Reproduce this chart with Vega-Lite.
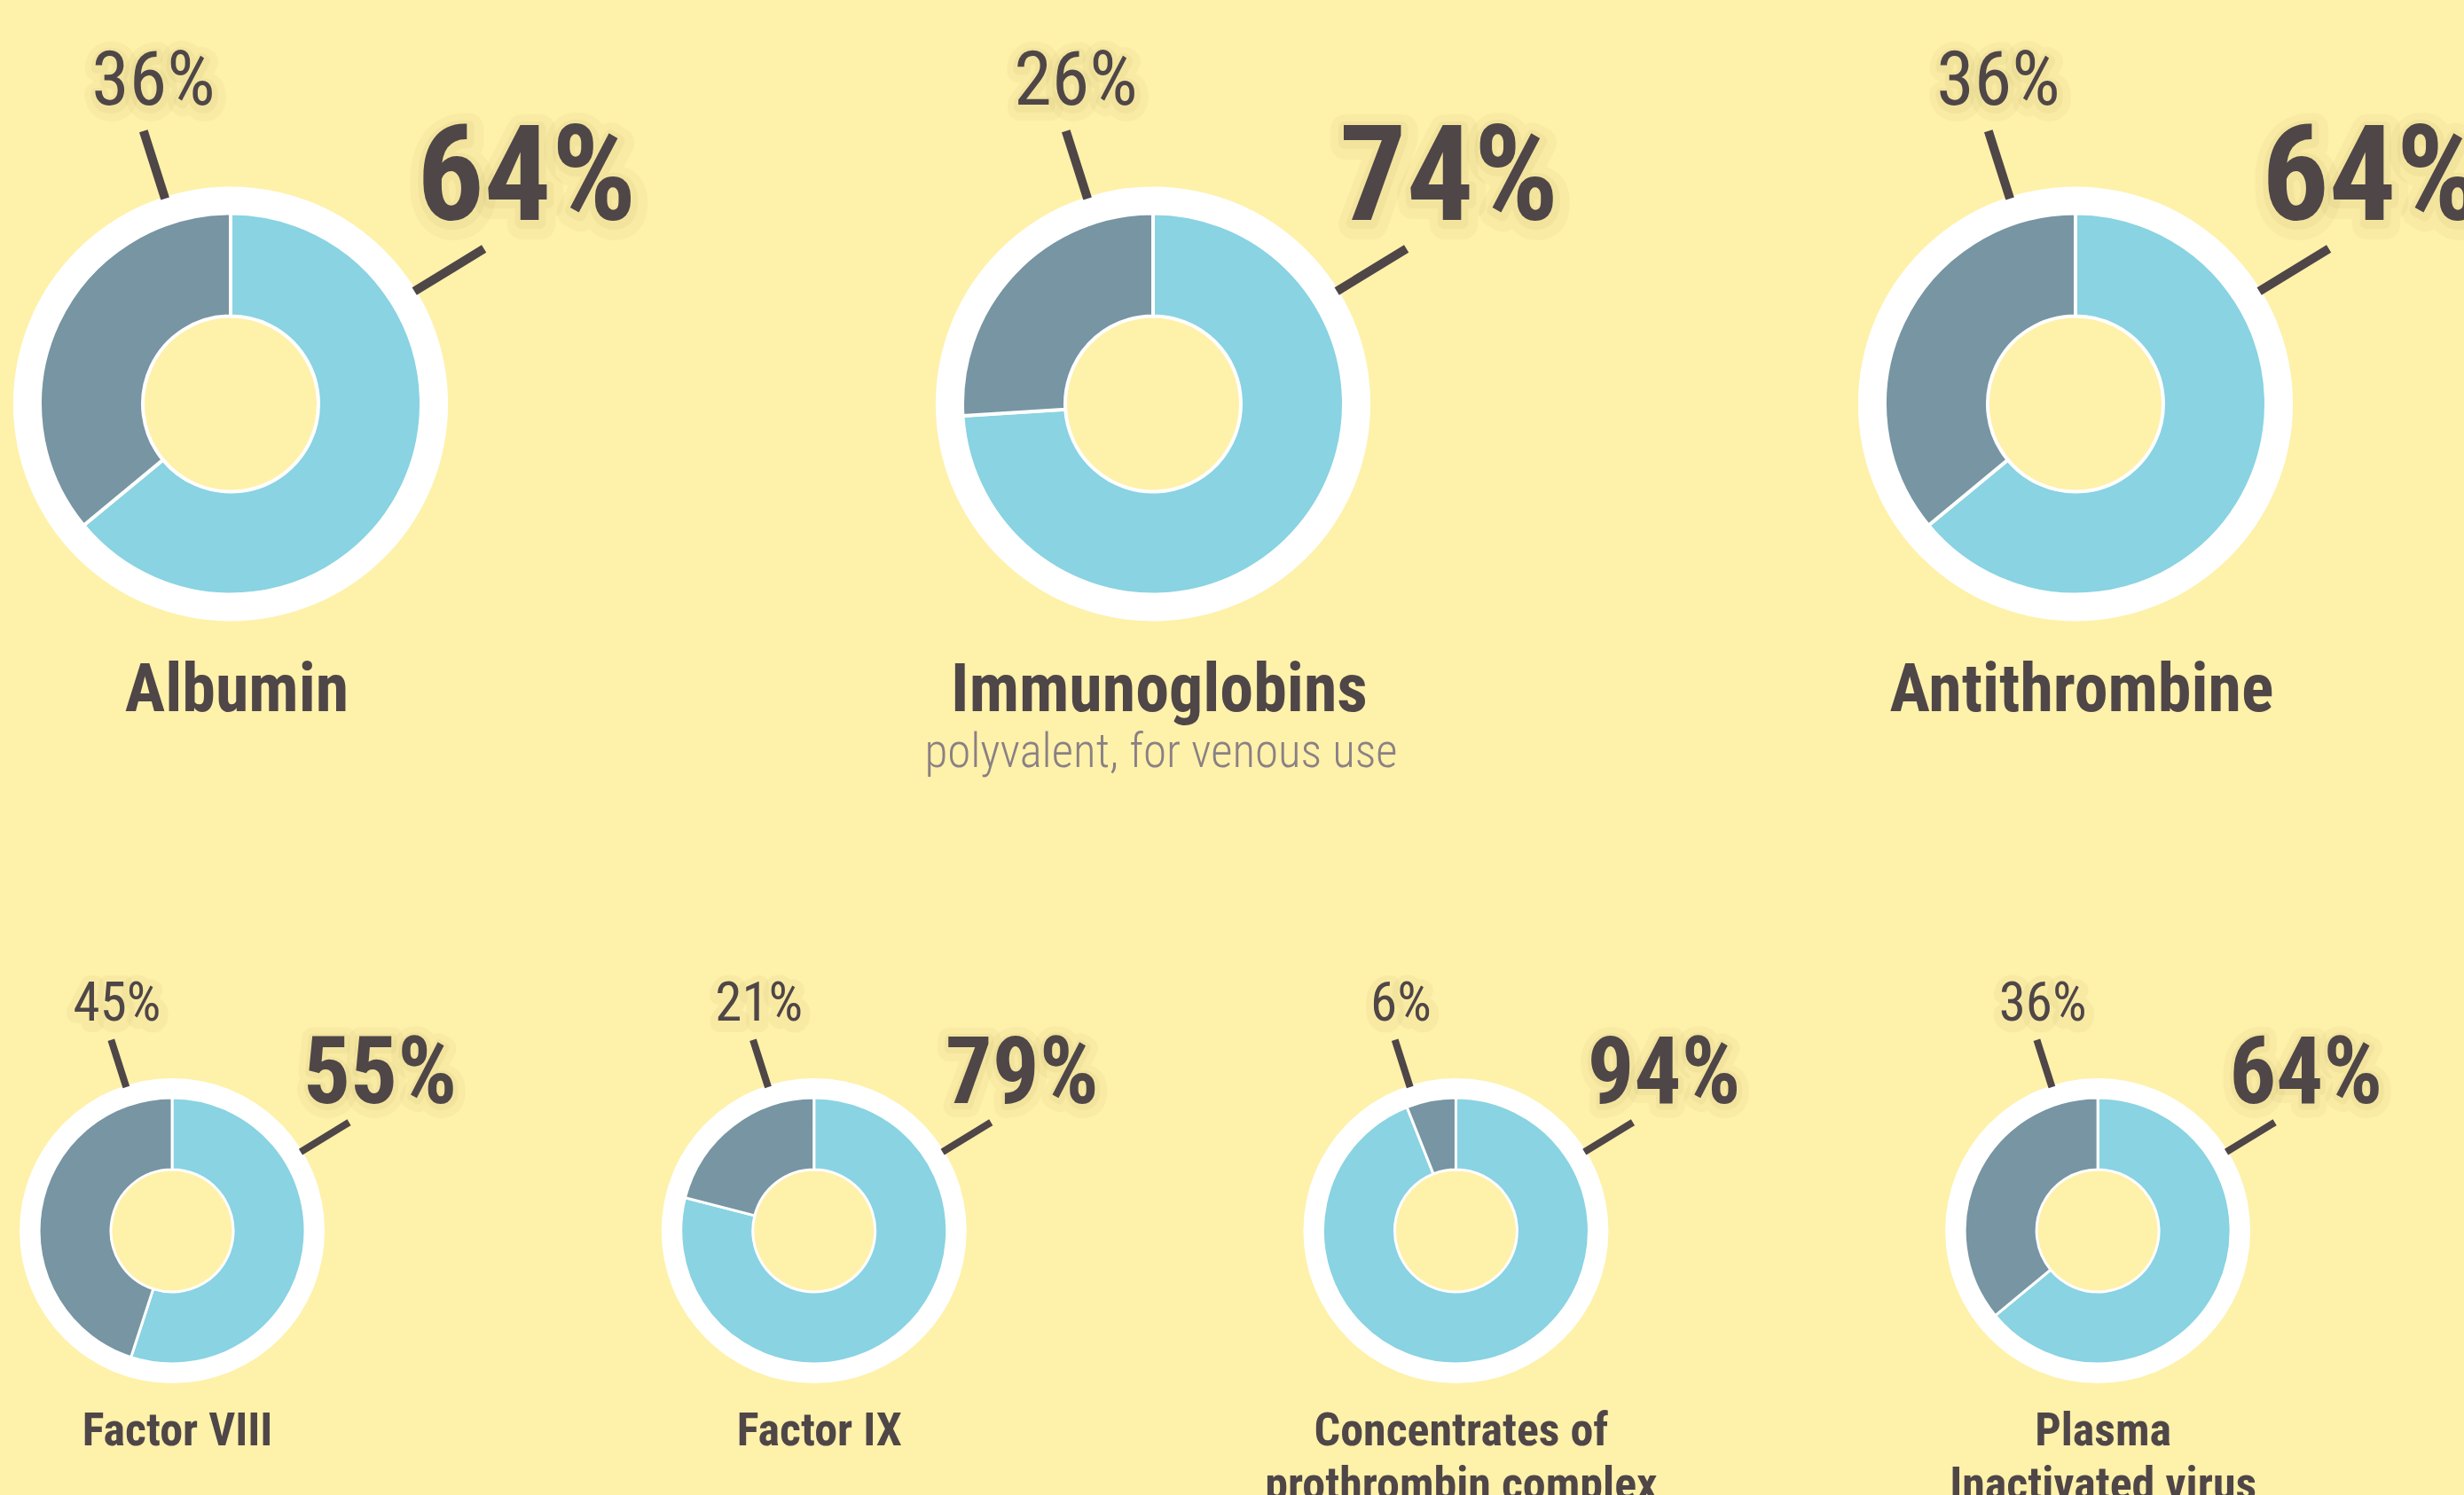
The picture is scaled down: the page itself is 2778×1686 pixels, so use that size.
{
  "$schema": "https://vega.github.io/schema/vega-lite/v6.json",
  "width": 2778,
  "height": 1686,
  "autosize": "none",
  "padding": 0,
  "background": "#FEF1AA",
  "config": {
    "view": {"stroke": null},
    "text": {"font": "Roboto Condensed", "color": "#4F4648"}
  },
  "datasets": {
    "slices": [
      {"row": "top", "name": "Albumin", "kind": "major", "share": 0.64},
      {"row": "top", "name": "Albumin", "kind": "minor", "share": 0.36},
      {"row": "top", "name": "Immunoglobins", "kind": "major", "share": 0.74},
      {"row": "top", "name": "Immunoglobins", "kind": "minor", "share": 0.26},
      {"row": "top", "name": "Antithrombine", "kind": "major", "share": 0.64},
      {"row": "top", "name": "Antithrombine", "kind": "minor", "share": 0.36},
      {"row": "bottom", "name": "Factor VIII", "kind": "major", "share": 0.55},
      {"row": "bottom", "name": "Factor VIII", "kind": "minor", "share": 0.45},
      {"row": "bottom", "name": "Factor IX", "kind": "major", "share": 0.79},
      {"row": "bottom", "name": "Factor IX", "kind": "minor", "share": 0.21},
      {"row": "bottom", "name": "Concentrates", "kind": "major", "share": 0.94},
      {"row": "bottom", "name": "Concentrates", "kind": "minor", "share": 0.06},
      {"row": "bottom", "name": "Plasma", "kind": "major", "share": 0.64},
      {"row": "bottom", "name": "Plasma", "kind": "minor", "share": 0.36}
    ],
    "products": [
      {"row": "top", "name": "Albumin", "label": "Albumin", "note": ""},
      {"row": "top", "name": "Immunoglobins", "label": "Immunoglobins", "note": "polyvalent, for venous use"},
      {"row": "top", "name": "Antithrombine", "label": "Antithrombine", "note": ""},
      {"row": "bottom", "name": "Factor VIII", "label": "Factor VIII", "note": ""},
      {"row": "bottom", "name": "Factor IX", "label": "Factor IX", "note": ""},
      {"row": "bottom", "name": "Concentrates", "label": "Concentrates of\nprothrombin complex", "note": ""},
      {"row": "bottom", "name": "Plasma", "label": "Plasma\nInactivated virus", "note": ""}
    ]
  },
  "resolve": {"scale": {"x": "independent"}},
  "layer": [
    {
      "encoding": {
        "x": {"field": "name", "type": "nominal", "axis": null,
              "scale": {"type": "point", "domain": ["Albumin", "Immunoglobins", "Antithrombine"], "padding": 0.3356, "align": 0.3725}},
        "y": {"field": "row", "type": "nominal", "axis": null,
              "scale": {"type": "point", "domain": ["top", "bottom"], "padding": 0.40402, "align": 0.60451}}
      },
      "layer": [
        {
          "data": {"name": "products"},
          "transform": [{"filter": "datum.row === 'top'"}],
          "mark": {"type": "arc", "theta": 0, "theta2": 6.2832, "radius": 245, "radius2": 200, "fill": "#FFFFFF"}
        },
        {
          "data": {"name": "slices"},
          "transform": [
            {"filter": "datum.row === 'top'"},
            {"stack": "share", "groupby": ["name"], "sort": [{"field": "kind", "order": "ascending"}], "as": ["s0", "s1"]}
          ],
          "mark": {"type": "arc", "radius": 215, "radius2": 99, "stroke": "#FFFFFF", "strokeWidth": 4},
          "encoding": {
            "theta": {"field": "s0", "type": "quantitative", "stack": null, "scale": {"domain": [0, 1]}},
            "theta2": {"field": "s1"},
            "color": {"field": "kind", "type": "nominal", "legend": null,
                      "scale": {"domain": ["major", "minor"], "range": ["#89D3E2", "#7795A3"]}}
          }
        },
        {
          "data": {"name": "products"},
          "transform": [{"filter": "datum.row === 'top'"}],
          "mark": {"type": "arc", "theta": -0.309, "theta2": -0.309, "radius": 323, "radius2": 243, "fill": "#4F4648", "stroke": "#4F4648", "strokeWidth": 10}
        },
        {
          "data": {"name": "products"},
          "transform": [{"filter": "datum.row === 'top'"}],
          "mark": {"type": "arc", "theta": 1.021, "theta2": 1.021, "radius": 335, "radius2": 243, "fill": "#4F4648", "stroke": "#4F4648", "strokeWidth": 10}
        },
        {
          "data": {"name": "slices"},
          "transform": [{"filter": "datum.row === 'top' && datum.kind === 'minor'"}],
          "mark": {"type": "text", "dx": -85, "dy": -333, "fontSize": 86, "align": "center", "baseline": "alphabetic",
                   "fillOpacity": 0, "stroke": "#8A7A30", "strokeOpacity": 0.045, "strokeWidth": 28, "strokeJoin": "round"},
          "encoding": {"text": {"field": "share", "type": "quantitative", "format": ".0%"}}
        },
        {
          "data": {"name": "slices"},
          "transform": [{"filter": "datum.row === 'top' && datum.kind === 'minor'"}],
          "mark": {"type": "text", "dx": -86, "dy": -334, "fontSize": 86, "align": "center", "baseline": "alphabetic",
                   "fillOpacity": 0, "stroke": "#8A7A30", "strokeOpacity": 0.06, "strokeWidth": 12, "strokeJoin": "round"},
          "encoding": {"text": {"field": "share", "type": "quantitative", "format": ".0%"}}
        },
        {
          "data": {"name": "slices"},
          "transform": [{"filter": "datum.row === 'top' && datum.kind === 'minor'"}],
          "mark": {"type": "text", "dx": -87, "dy": -337, "fontSize": 86, "align": "center", "baseline": "alphabetic"},
          "encoding": {"text": {"field": "share", "type": "quantitative", "format": ".0%"}}
        },
        {
          "data": {"name": "slices"},
          "transform": [{"filter": "datum.row === 'top' && datum.kind === 'major'"}],
          "mark": {"type": "text", "dx": 212, "dy": -202, "fontSize": 150, "fontWeight": "bold", "align": "left", "baseline": "alphabetic",
                   "fillOpacity": 0, "stroke": "#8A7A30", "strokeOpacity": 0.045, "strokeWidth": 34, "strokeJoin": "round"},
          "encoding": {"text": {"field": "share", "type": "quantitative", "format": ".0%"}}
        },
        {
          "data": {"name": "slices"},
          "transform": [{"filter": "datum.row === 'top' && datum.kind === 'major'"}],
          "mark": {"type": "text", "dx": 211, "dy": -204, "fontSize": 150, "fontWeight": "bold", "align": "left", "baseline": "alphabetic",
                   "fillOpacity": 0, "stroke": "#8A7A30", "strokeOpacity": 0.06, "strokeWidth": 14, "strokeJoin": "round"},
          "encoding": {"text": {"field": "share", "type": "quantitative", "format": ".0%"}}
        },
        {
          "data": {"name": "slices"},
          "transform": [{"filter": "datum.row === 'top' && datum.kind === 'major'"}],
          "mark": {"type": "text", "dx": 210, "dy": -207, "fontSize": 150, "fontWeight": "bold", "align": "left", "baseline": "alphabetic"},
          "encoding": {"text": {"field": "share", "type": "quantitative", "format": ".0%"}}
        },
        {
          "data": {"name": "products"},
          "transform": [{"filter": "datum.row === 'top'"}],
          "mark": {"type": "text", "dx": 7, "dy": 347, "fontSize": 76, "fontWeight": "bold", "align": "center", "baseline": "alphabetic"},
          "encoding": {"text": {"field": "label", "type": "nominal"}}
        },
        {
          "data": {"name": "products"},
          "transform": [{"filter": "datum.row === 'top' && datum.note !== ''"}],
          "mark": {"type": "text", "dx": 9, "dy": 410, "fontSize": 53, "fontWeight": 300, "align": "center", "baseline": "alphabetic", "color": "#8A8084"},
          "encoding": {"text": {"field": "note", "type": "nominal"}}
        }
      ]
    },
    {
      "encoding": {
        "x": {"field": "name", "type": "nominal", "axis": null,
              "scale": {"type": "point", "domain": ["Factor VIII", "Factor IX", "Concentrates", "Plasma"], "padding": 0.4193, "align": 0.3197}},
        "y": {"field": "row", "type": "nominal", "axis": null,
              "scale": {"type": "point", "domain": ["top", "bottom"], "padding": 0.40402, "align": 0.60451}}
      },
      "layer": [
        {
          "data": {"name": "products"},
          "transform": [{"filter": "datum.row === 'bottom'"}],
          "mark": {"type": "arc", "theta": 0, "theta2": 6.2832, "radius": 172, "radius2": 140, "fill": "#FFFFFF"}
        },
        {
          "data": {"name": "slices"},
          "transform": [
            {"filter": "datum.row === 'bottom'"},
            {"stack": "share", "groupby": ["name"], "sort": [{"field": "kind", "order": "ascending"}], "as": ["s0", "s1"]}
          ],
          "mark": {"type": "arc", "radius": 150, "radius2": 69, "stroke": "#FFFFFF", "strokeWidth": 3},
          "encoding": {
            "theta": {"field": "s0", "type": "quantitative", "stack": null, "scale": {"domain": [0, 1]}},
            "theta2": {"field": "s1"},
            "color": {"field": "kind", "type": "nominal", "legend": null,
                      "scale": {"domain": ["major", "minor"], "range": ["#89D3E2", "#7795A3"]}}
          }
        },
        {
          "data": {"name": "products"},
          "transform": [{"filter": "datum.row === 'bottom'"}],
          "mark": {"type": "arc", "theta": -0.309, "theta2": -0.309, "radius": 226, "radius2": 170, "fill": "#4F4648", "stroke": "#4F4648", "strokeWidth": 8}
        },
        {
          "data": {"name": "products"},
          "transform": [{"filter": "datum.row === 'bottom'"}],
          "mark": {"type": "arc", "theta": 1.021, "theta2": 1.021, "radius": 234, "radius2": 170, "fill": "#4F4648", "stroke": "#4F4648", "strokeWidth": 8}
        },
        {
          "data": {"name": "slices"},
          "transform": [{"filter": "datum.row === 'bottom' && datum.kind === 'minor'"}],
          "mark": {"type": "text", "dx": -61, "dy": -234, "fontSize": 61, "align": "center", "baseline": "alphabetic",
                   "fillOpacity": 0, "stroke": "#8A7A30", "strokeOpacity": 0.05, "strokeWidth": 20, "strokeJoin": "round"},
          "encoding": {"text": {"field": "share", "type": "quantitative", "format": ".0%"}}
        },
        {
          "data": {"name": "slices"},
          "transform": [{"filter": "datum.row === 'bottom' && datum.kind === 'minor'"}],
          "mark": {"type": "text", "dx": -62, "dy": -237, "fontSize": 61, "align": "center", "baseline": "alphabetic"},
          "encoding": {"text": {"field": "share", "type": "quantitative", "format": ".0%"}}
        },
        {
          "data": {"name": "slices"},
          "transform": [{"filter": "datum.row === 'bottom' && datum.kind === 'major'"}],
          "mark": {"type": "text", "dx": 149, "dy": -141, "fontSize": 105, "fontWeight": "bold", "align": "left", "baseline": "alphabetic",
                   "fillOpacity": 0, "stroke": "#8A7A30", "strokeOpacity": 0.045, "strokeWidth": 26, "strokeJoin": "round"},
          "encoding": {"text": {"field": "share", "type": "quantitative", "format": ".0%"}}
        },
        {
          "data": {"name": "slices"},
          "transform": [{"filter": "datum.row === 'bottom' && datum.kind === 'major'"}],
          "mark": {"type": "text", "dx": 149, "dy": -142, "fontSize": 105, "fontWeight": "bold", "align": "left", "baseline": "alphabetic",
                   "fillOpacity": 0, "stroke": "#8A7A30", "strokeOpacity": 0.06, "strokeWidth": 10, "strokeJoin": "round"},
          "encoding": {"text": {"field": "share", "type": "quantitative", "format": ".0%"}}
        },
        {
          "data": {"name": "slices"},
          "transform": [{"filter": "datum.row === 'bottom' && datum.kind === 'major'"}],
          "mark": {"type": "text", "dx": 148, "dy": -144, "fontSize": 105, "fontWeight": "bold", "align": "left", "baseline": "alphabetic"},
          "encoding": {"text": {"field": "share", "type": "quantitative", "format": ".0%"}}
        },
        {
          "data": {"name": "products"},
          "transform": [{"filter": "datum.row === 'bottom'"}],
          "mark": {"type": "text", "dx": 6, "dy": 242, "fontSize": 52, "fontWeight": "bold", "align": "center", "baseline": "alphabetic", "lineBreak": "\n", "lineHeight": 61},
          "encoding": {"text": {"field": "label", "type": "nominal"}}
        }
      ]
    }
  ]
}
